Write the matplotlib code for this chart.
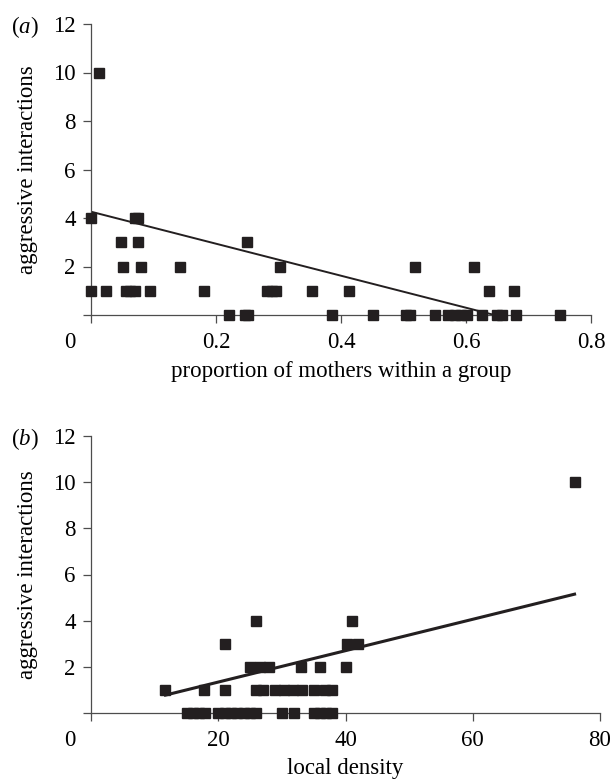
import numpy as np
import matplotlib.pyplot as plt
from matplotlib.transforms import ScaledTranslation

plt.rcParams['font.family'] = ['Liberation Serif', 'DejaVu Serif']
plt.rcParams['mathtext.fontset'] = 'custom'
plt.rcParams['mathtext.rm'] = 'Liberation Serif'
plt.rcParams['mathtext.it'] = 'Liberation Serif:italic'

# (a) proportion of mothers vs aggressive interactions
mothers_x = [0.013,
             0.0, 0.070, 0.075,
             0.048, 0.075, 0.249,
             0.051, 0.080, 0.142, 0.303, 0.518, 0.613,
             0.0, 0.024, 0.056, 0.063, 0.071, 0.094, 0.180, 0.282, 0.289, 0.296,
             0.354, 0.413, 0.637, 0.677,
             0.220, 0.247, 0.251, 0.385, 0.451, 0.504, 0.510, 0.550, 0.572, 0.582,
             0.592, 0.602, 0.626, 0.650, 0.658, 0.680, 0.750]
mothers_y = [10,
             4, 4, 4,
             3, 3, 3,
             2, 2, 2, 2, 2, 2,
             1, 1, 1, 1, 1, 1, 1, 1, 1, 1,
             1, 1, 1, 1,
             0, 0, 0, 0, 0, 0, 0, 0, 0, 0,
             0, 0, 0, 0, 0, 0, 0]
fit_a = (4.26, -6.6)  # intercept, slope

# (b) local density vs aggressive interactions
density_x = [76,
             25.9, 41.0,
             21.1, 40.2, 41.9,
             25.0, 26.5, 28.0, 33.0, 36.0, 40.1,
             11.7, 17.8, 21.0, 26.0, 27.0, 28.9, 30.3, 31.8, 33.2, 35.0, 36.7, 37.9,
             15.1, 16.0, 17.0, 17.9, 20.0, 21.0, 22.0, 23.0, 24.0, 25.0, 25.9,
             30.0, 31.9, 35.0, 36.0, 37.0, 37.9]
density_y = [10,
             4, 4,
             3, 3, 3,
             2, 2, 2, 2, 2, 2,
             1, 1, 1, 1, 1, 1, 1, 1, 1, 1, 1, 1,
             0, 0, 0, 0, 0, 0, 0, 0, 0, 0, 0,
             0, 0, 0, 0, 0, 0]
fit_b = (-0.02, 0.068)

y_ticks = [0, 2, 4, 6, 8, 10, 12]
y_labels = ['', '2', '4', '6', '8', '10', '12']
xa_ticks = [0, 0.2, 0.4, 0.6, 0.8]
xa_labels = ['0', '0.2', '0.4', '0.6', '0.8']
xb_ticks = [0, 20, 40, 60, 80]
xb_labels = ['0', '20', '40', '60', '80']

mark_col = '#231f20'
axis_col = '#4d4d4d'
fs = 16.5

fig = plt.figure(figsize=(6.14, 7.81), dpi=100)
W, H = 614, 781
ax_a = fig.add_axes([91 / W, 1 - 315 / H, 500 / W, 291 / H])
ax_b = fig.add_axes([91 / W, 1 - 713 / H, 509 / W, 277 / H])


def style(ax, xticks, xlabels, xlim):
    ax.set_xlim(*xlim)
    ax.set_ylim(0, 12)
    for s in ['top', 'right']:
        ax.spines[s].set_visible(False)
    for s in ['left', 'bottom']:
        ax.spines[s].set_color(axis_col)
        ax.spines[s].set_linewidth(0.9)
    ax.set_yticks(y_ticks)
    ax.set_yticklabels(y_labels)
    ax.set_xticks(xticks)
    ax.set_xticklabels(xlabels)
    ax.tick_params(axis='y', direction='out', length=6, width=0.9, color=axis_col,
                   pad=5, labelsize=fs)
    ax.tick_params(axis='x', direction='out', length=6, width=0.9, color=axis_col,
                   pad=6, labelsize=fs)
    # the zero label sits left of the origin
    lab0 = ax.get_xticklabels()[0]
    lab0.set_transform(lab0.get_transform() + ScaledTranslation(-0.21, 0, fig.dpi_scale_trans))
    ax.set_ylabel('aggressive interactions', fontsize=fs, labelpad=11)


# panel a
style(ax_a, xa_ticks, xa_labels, (0, 0.8))
ax_a.plot(mothers_x, mothers_y, 's', ms=6.7, color=mark_col, clip_on=False, zorder=3)
xa_end = -fit_a[0] / fit_a[1]
xa_line = np.array([0, xa_end])
ax_a.plot(xa_line, fit_a[0] + fit_a[1] * xa_line, color=mark_col, lw=1.4)
ax_a.set_xlabel('proportion of mothers within a group', fontsize=fs, labelpad=6)

# panel b
style(ax_b, xb_ticks, xb_labels, (0, 80))
ax_b.plot(density_x, density_y, 's', ms=6.7, color=mark_col, clip_on=False, zorder=3)
xb_line = np.array([min(density_x), max(density_x)])
ax_b.plot(xb_line, fit_b[0] + fit_b[1] * xb_line, color=mark_col, lw=2.2)
ax_b.set_xlabel('local density', fontsize=fs, labelpad=5)

fig.text(11 / W, 1 - 27 / H, r'($a$)', fontsize=fs, ha='left', va='center')
fig.text(11 / W, 1 - 439 / H, r'($b$)', fontsize=fs, ha='left', va='center')

plt.savefig('out.png', dpi=100)
